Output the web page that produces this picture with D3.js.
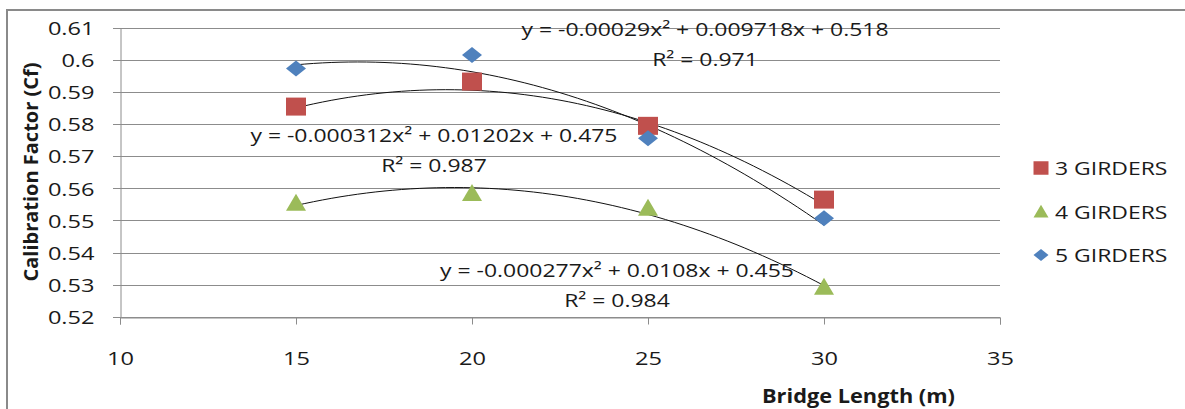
<!DOCTYPE html>
<html>
<head>
<meta charset="utf-8">
<script src="https://cdn.jsdelivr.net/npm/d3@7"></script>
<style>
  body { margin: 0; background: #fff; }
  text { font-family: "Open Sans", sans-serif; fill: #1a1a1a; }
</style>
</head>
<body>
<div id="chart"></div>
<script>
// data
const lengths = [15, 20, 25, 30];
const girders3 = [0.5855, 0.5933, 0.5795, 0.5565];
const girders4 = [0.5555, 0.5586, 0.554, 0.5293];
const girders5 = [0.5974, 0.6016, 0.5756, 0.5507];
const seriesNames = ["3 GIRDERS", "4 GIRDERS", "5 GIRDERS"];
const xTicks = [10, 15, 20, 25, 30, 35];
const yTicks = [0.52, 0.53, 0.54, 0.55, 0.56, 0.57, 0.58, 0.59, 0.6, 0.61];
// trendline coefficients (a x^2 + b x + c) and labels as printed in the chart
const trendCoef = [[-0.000312, 0.01202, 0.475], [-0.000277, 0.0108, 0.455], [-0.00029, 0.009718, 0.518]];
const trendEq = ["y = -0.000312x\u00b2 + 0.01202x + 0.475", "y = -0.000277x\u00b2 + 0.0108x + 0.455", "y = -0.00029x\u00b2 + 0.009718x + 0.518"];
const trendR2 = ["R\u00b2 = 0.987", "R\u00b2 = 0.984", "R\u00b2 = 0.971"];

// label anchors in data units (centre x, baseline y)
const eqPos = [[18.92, 0.5745], [24.12, 0.5324], [26.62, 0.6075]];
const colors = ["#C0504D", "#9BBB59", "#4F81BD"];
const shapes = ["square", "triangle", "diamond"];
const SX = 1.24; // the original text is stretched sideways

const W = 1185, H = 409;
const svg = d3.select("#chart").append("svg")
  .attr("width", W).attr("height", H);

// outer frame (left and top only visible)
svg.append("path")
  .attr("d", `M7,${H} L7,10 L${W},10`)
  .attr("fill", "none").attr("stroke", "#8a8a8a").attr("stroke-width", 2);

const x = d3.scaleLinear().domain([10, 35]).range([120, 1000]);
const y = d3.scaleLinear().domain([0.52, 0.61]).range([316.7, 28]);

function stretch(sel) {
  sel.each(function() {
    const w = this.getComputedTextLength();
    d3.select(this).attr("textLength", w * SX).attr("lengthAdjust", "spacingAndGlyphs");
  });
}

// gridlines
svg.append("g").selectAll("line").data(yTicks).join("line")
  .attr("x1", 113).attr("x2", x(35))
  .attr("y1", d => Math.round(y(d)) + 0.5).attr("y2", d => Math.round(y(d)) + 0.5)
  .attr("stroke", "#8c8c8c").attr("stroke-width", 1);

// axes
const yAxis = svg.append("g").attr("transform", "translate(120.5,0)")
  .call(d3.axisLeft(y).tickValues(yTicks).tickFormat(d3.format("")).tickSize(0).tickPadding(25));
yAxis.select(".domain").attr("stroke", "#8c8c8c");
yAxis.selectAll("text").attr("font-size", 19).attr("fill", "#1a1a1a")
  .attr("font-family", "Open Sans").attr("x", -26).attr("dy", "0.35em").call(stretch);

const xAxis = svg.append("g").attr("transform", `translate(0,${Math.round(y(0.52)) + 0.5})`)
  .call(d3.axisBottom(x).tickValues(xTicks).tickSize(7).tickPadding(27));
xAxis.select(".domain").attr("stroke", "#8c8c8c");
xAxis.selectAll(".tick line").attr("stroke", "#8c8c8c");
xAxis.selectAll("text").attr("font-size", 19).attr("fill", "#1a1a1a")
  .attr("font-family", "Open Sans").call(stretch);

// axis titles
svg.append("text").attr("x", 762).attr("y", 403)
  .attr("font-size", 20).attr("font-weight", "bold")
  .text("Bridge Length (m)")
  .attr("textLength", 193).attr("lengthAdjust", "spacingAndGlyphs");
svg.append("text").attr("transform", "translate(38,172) rotate(-90)")
  .attr("text-anchor", "middle")
  .attr("font-size", 20).attr("font-weight", "bold")
  .text("Calibration Factor (Cf)")
  .attr("textLength", 219).attr("lengthAdjust", "spacingAndGlyphs");

// trendlines
const line = d3.line().x(d => x(d[0])).y(d => y(d[1]));
trendCoef.forEach(([a, b, c]) => {
  const pts = d3.range(15, 30.001, 0.25).map(t => [t, a * t * t + b * t + c]);
  svg.append("path").attr("d", line(pts))
    .attr("fill", "none").attr("stroke", "#111").attr("stroke-width", 1);
});

// markers
function markerPath(shape, s) {
  if (shape === "square") return `M${-10 * s},${-9 * s}h${20 * s}v${18 * s}h${-20 * s}Z`;
  if (shape === "triangle") return `M0,${-9 * s}L${10 * s},${8 * s}L${-10 * s},${8 * s}Z`;
  return `M0,${-8 * s}L${10 * s},0L0,${8 * s}L${-10 * s},0Z`;
}
const allSeries = [girders3, girders4, girders5];
allSeries.forEach((vals, i) => {
  svg.append("g").selectAll("path").data(vals).join("path")
    .attr("d", markerPath(shapes[i], 1))
    .attr("transform", (d, j) => `translate(${x(lengths[j])},${y(d)})`)
    .attr("fill", colors[i]);
});

// equations and R^2
trendEq.forEach((eq, i) => {
  const cx = x(eqPos[i][0]), by = y(eqPos[i][1]);
  svg.append("text").attr("x", cx).attr("y", by).attr("text-anchor", "middle")
    .attr("font-size", 18.5).text(eq).call(stretch);
  svg.append("text").attr("x", cx).attr("y", by + 30).attr("text-anchor", "middle")
    .attr("font-size", 18.5).text(trendR2[i]).call(stretch);
});

// legend
const legend = svg.append("g");
seriesNames.forEach((name, i) => {
  const cy = 168 + i * 43.5;
  legend.append("path").attr("d", markerPath(shapes[i], 0.75))
    .attr("transform", `translate(1041,${cy})`).attr("fill", colors[i]);
  legend.append("text").attr("x", 1055).attr("y", cy + 7)
    .attr("font-size", 18.5).text(name).call(stretch);
});
</script>
</body>
</html>
